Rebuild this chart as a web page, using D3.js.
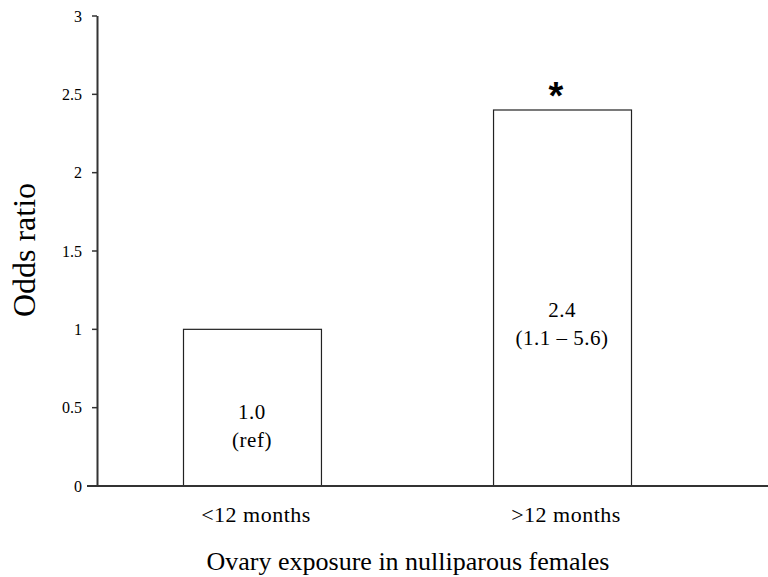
<!DOCTYPE html>
<html>
<head>
<meta charset="utf-8" />
<style>
body {
	margin: 0;
	background: #fff;
	font-family: "Liberation Serif", "Times New Roman", serif;
}
svg {
	display: block;
}
.bar {
	fill: #fff;
	stroke: #222;
	stroke-width: 1.2;
}
.tick-label {
	font-size: 16px;
	text-anchor: end;
}
.cat-label {
	font-size: 22px;
	text-anchor: middle;
	letter-spacing: 0.5px;
}
.bar-label {
	font-size: 21px;
	text-anchor: middle;
	letter-spacing: 0.5px;
}
</style>
</head>
<body>
<script src="https://d3js.org/d3.v7.min.js"></script>
<script>
var categories = ["<12 months", ">12 months"];
var oddsRatios = [1.0, 2.4];
var barLabels = [["1.0", "(ref)"], ["2.4", "(1.1 \u2013 5.6)"]];
var significant = [false, true];
var yTicks = [0, 0.5, 1, 1.5, 2, 2.5, 3];

var width = 768,
    height = 577;

var svg = d3.select("body").append("svg")
	.attr("width", width)
	.attr("height", height);

var y = d3.scaleLinear()
	.domain([0, 3])
	.range([486, 16]);

var x = d3.scaleBand()
	.domain(categories)
	.range([183, 631])
	.paddingInner(0.555)
	.paddingOuter(0);

// bars
svg.selectAll("rect.bar")
	.data(oddsRatios)
	.enter().append("rect")
	.attr("class", "bar")
	.attr("x", function(d, i) { return x(categories[i]) + 0.5; })
	.attr("y", function(d) { return y(d); })
	.attr("width", x.bandwidth())
	.attr("height", function(d) { return y(0) - y(d); });

// labels inside bars
var labelBase = [419, 317];
for (var i = 0; i < oddsRatios.length; i++) {
	var cx = x(categories[i]) + x.bandwidth() / 2;
	svg.append("text")
		.attr("class", "bar-label")
		.attr("x", cx)
		.attr("y", labelBase[i])
		.text(barLabels[i][0]);
	svg.append("text")
		.attr("class", "bar-label")
		.attr("x", cx)
		.attr("y", labelBase[i] + 28)
		.text(barLabels[i][1]);
	if (significant[i]) {
		svg.append("text")
			.attr("x", cx - 6)
			.attr("y", y(oddsRatios[i]) - 1)
			.attr("text-anchor", "middle")
			.attr("font-size", "38px")
			.attr("font-weight", "bold")
			.attr("font-family", "Liberation Sans, Arial, sans-serif")
			.text("*");
	}
}

// y axis
var axisColor = "#333";
svg.append("line")
	.attr("x1", 97.5).attr("x2", 97.5)
	.attr("y1", y(3)).attr("y2", y(0))
	.attr("stroke", axisColor)
	.attr("stroke-width", 2);

svg.selectAll("line.ytick")
	.data(yTicks)
	.enter().append("line")
	.attr("x1", 92).attr("x2", 97)
	.attr("y1", function(d) { return y(d); })
	.attr("y2", function(d) { return y(d); })
	.attr("stroke", axisColor)
	.attr("stroke-width", 1.5);

svg.selectAll("text.tick-label")
	.data(yTicks)
	.enter().append("text")
	.attr("class", "tick-label")
	.attr("x", 82)
	.attr("y", function(d) { return y(d) + 5.5; })
	.text(function(d) { return d; });

// x axis
svg.append("line")
	.attr("x1", 87).attr("x2", 768)
	.attr("y1", y(0)).attr("y2", y(0))
	.attr("stroke", axisColor)
	.attr("stroke-width", 2);

svg.selectAll("text.cat-label")
	.data(categories)
	.enter().append("text")
	.attr("class", "cat-label")
	.attr("x", function(d) { return x(d) + x.bandwidth() / 2 + 4; })
	.attr("y", 522)
	.text(function(d) { return d; });

// axis titles
svg.append("text")
	.attr("transform", "translate(35,250) rotate(-90)")
	.attr("text-anchor", "middle")
	.attr("font-size", "32px")
	.text("Odds ratio");

svg.append("text")
	.attr("x", 408)
	.attr("y", 570)
	.attr("text-anchor", "middle")
	.attr("font-size", "26px")
	.text("Ovary exposure in nulliparous females");
</script>
</body>
</html>
